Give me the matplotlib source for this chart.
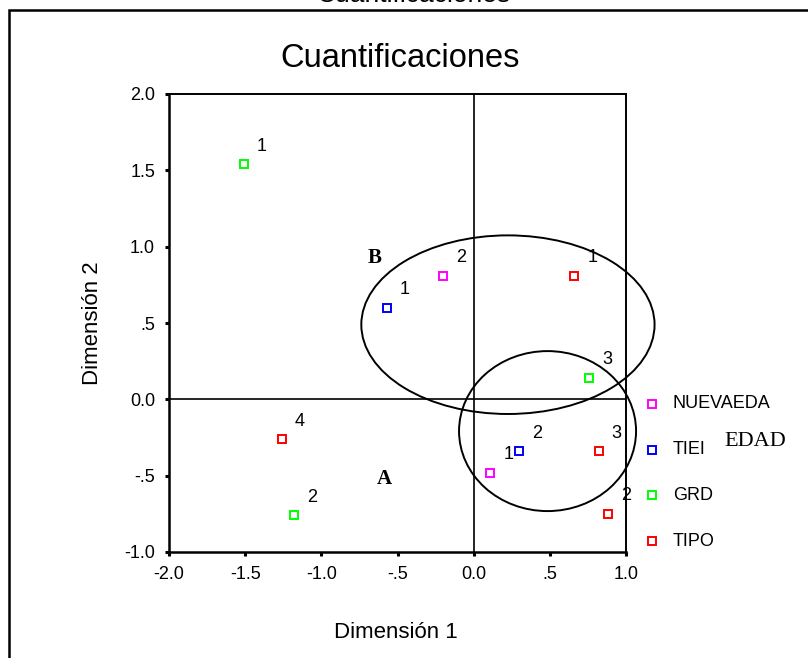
import matplotlib
matplotlib.use("Agg")
import matplotlib.pyplot as plt
from matplotlib.patches import Ellipse, Rectangle
from matplotlib.lines import Line2D

# ---- data ----
series_names = ["NUEVAEDA", "TIEI", "GRD", "TIPO"]
series_colors = ["#FF00FF", "#0000FF", "#00FF00", "#FF0000"]

nuevaeda_labels = ["1", "2"]
nuevaeda_x = [0.11, -0.20]
nuevaeda_y = [-0.48, 0.81]

tiempo_labels = ["1", "2"]
tiempo_x = [-0.57, 0.30]
tiempo_y = [0.60, -0.34]

grd_labels = ["1", "2", "3"]
grd_x = [-1.51, -1.18, 0.76]
grd_y = [1.54, -0.76, 0.14]

tipo_labels = ["1", "2", "3", "4"]
tipo_x = [0.66, 0.88, 0.82, -1.26]
tipo_y = [0.81, -0.75, -0.34, -0.26]

tick_values = [-2.0, -1.5, -1.0, -0.5, 0.0, 0.5, 1.0]
xtick_labels = ["-2.0", "-1.5", "-1.0", "-.5", "0.0", ".5", "1.0"]
ytick_values = [-1.0, -0.5, 0.0, 0.5, 1.0, 1.5, 2.0]
ytick_labels = ["-1.0", "-.5", "0.0", ".5", "1.0", "1.5", "2.0"]

series = [
    (nuevaeda_x, nuevaeda_y, nuevaeda_labels),
    (tiempo_x, tiempo_y, tiempo_labels),
    (grd_x, grd_y, grd_labels),
    (tipo_x, tipo_y, tipo_labels),
]

# ---- fonts ----
SANS = "Liberation Sans"
SERIF = "Liberation Serif"
plt.rcParams["font.family"] = [SANS, "DejaVu Sans"]

W, H = 808, 658
fig = plt.figure(figsize=(W / 100, H / 100), dpi=100)
fig.patch.set_facecolor("white")

def fx(px):
    return px / W

def fy(py):
    return 1 - py / H

# outer frame (extends beyond right / bottom edges)
fig.patches.append(Rectangle((fx(8.5), fy(700)), 2.0, fy(9.5) - fy(700),
                             transform=fig.transFigure, fill=False,
                             edgecolor="black", linewidth=1.8))

# heading at very top (cut off in the reference as well)
fig.text(fx(414), fy(2.0), "Cuantificaciones", ha="center", va="baseline",
         fontsize=19, family=SANS)

# main title
fig.text(fx(400), fy(67), "Cuantificaciones", ha="center", va="baseline",
         fontsize=23.5, family=SANS)

ax = fig.add_axes([fx(169), fy(552), fx(626) - fx(169), fy(94) - fy(552)])
ax.set_xlim(-2.0, 1.0)
ax.set_ylim(-1.0, 2.0)
for s in ax.spines.values():
    s.set_linewidth(1.4)
ax.spines["left"].set_linewidth(1.8)
ax.spines["bottom"].set_linewidth(1.8)

ax.set_xticks(tick_values)
ax.set_xticklabels(xtick_labels)
ax.set_yticks(ytick_values)
ax.set_yticklabels(ytick_labels)
ax.tick_params(direction="out", length=3, width=2.2, labelsize=13, pad=7)

ax.axhline(0, color="black", linewidth=1.2, zorder=1)
ax.axvline(0, color="black", linewidth=1.2, zorder=1)

for (xs, ys, labs), color in zip(series, series_colors):
    ax.plot(xs, ys, linestyle="none", marker="s", markersize=6.3,
            markerfacecolor="white", markeredgecolor=color,
            markeredgewidth=1.4, zorder=3)
    for x, y, lab in zip(xs, ys, labs):
        ax.annotate(lab, (x, y), xytext=(18, 18), textcoords="offset pixels",
                    ha="center", va="center", fontsize=13)

# ellipses
ax.add_patch(Ellipse((0.225, 0.489), 1.925, 1.17, fill=False,
                     edgecolor="black", linewidth=1.4, clip_on=False, zorder=2))
ax.add_patch(Ellipse((0.485, -0.208), 1.162, 1.048, fill=False,
                     edgecolor="black", linewidth=1.4, clip_on=False, zorder=2))

# group letters
fig.text(fx(375), fy(258), "B", ha="center", va="center", fontsize=15,
         family=SERIF, fontweight="bold")
fig.text(fx(384), fy(479), "A", ha="center", va="center", fontsize=15,
         family=SERIF, fontweight="bold")

# axis labels
fig.text(fx(93), fy(323), "Dimensión 2", rotation=90, ha="center",
         va="center", fontsize=16)
fig.text(fx(396), fy(632), "Dimensión 1", ha="center", va="center",
         fontsize=16)

# legend (manual)
leg_rows = [404, 450, 495, 541]
for name, color, py in zip(series_names, series_colors, leg_rows):
    fig.lines.append(Line2D([fx(652)], [fy(py)], transform=fig.transFigure,
                            linestyle="none", marker="s", markersize=6.3,
                            markerfacecolor="white", markeredgecolor=color,
                            markeredgewidth=1.4))
    fig.text(fx(673), fy(py), name, ha="left", va="center", fontsize=13)

fig.text(fx(724), fy(441), "EDAD", ha="left", va="center", fontsize=16,
         family=SERIF)

fig.savefig("out.png", dpi=100, facecolor="white")
